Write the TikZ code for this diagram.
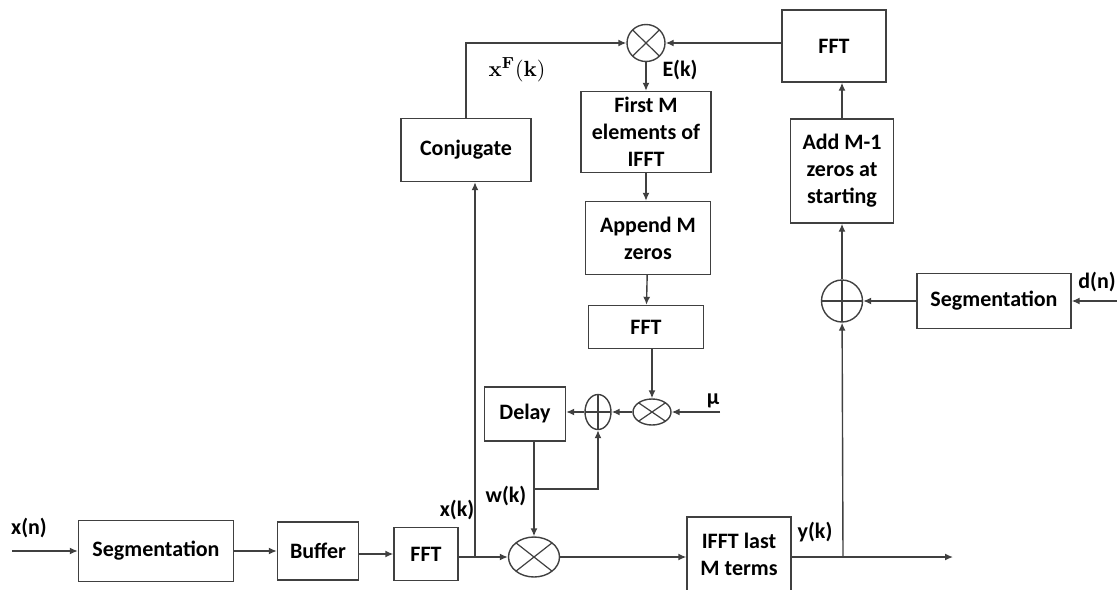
\documentclass[tikz,border=0pt]{standalone}
\usepackage[no-math]{fontspec}
\setmainfont{Carlito}
\usetikzlibrary{shapes.geometric,arrows.meta}

\begin{document}
\begin{tikzpicture}[x=0.5pt, y=-0.5pt,
    every node/.style={font=\bfseries\fontsize{11}{13.5}\selectfont},
    block/.style={draw=black!75, line width=0.7pt, rectangle, inner sep=0pt, align=center},
    mult/.style={draw=black!75, line width=0.7pt, ellipse, inner sep=0pt,
        path picture={\draw[black!75, line width=0.6pt]
            (path picture bounding box.north west) -- (path picture bounding box.south east)
            (path picture bounding box.south west) -- (path picture bounding box.north east);}},
    adder/.style={draw=black!75, line width=0.7pt, ellipse, inner sep=0pt,
        path picture={\draw[black!75, line width=0.6pt]
            (path picture bounding box.west) -- (path picture bounding box.east)
            (path picture bounding box.north) -- (path picture bounding box.south);}},
    sig/.style={draw=black!75, line width=0.7pt, -{Latex[length=4pt,width=3.5pt]}}]

\useasboundingbox (0,0) rectangle (1117,589);

% -----------------------------
% Main path (bottom row)
% -----------------------------
\node[block, minimum width=77.5pt, minimum height=30.5pt] (seg1) at (156,551) {Segmentation};
\node[block, minimum width=40.5pt, minimum height=29pt] (buffer) at (318,551) {Buffer};
\node[block, minimum width=32pt, minimum height=26.5pt] (fft1) at (426,554) {FFT};
\node[mult, minimum width=25.5pt, minimum height=20pt] (m1) at (534,557) {};
\node[block, minimum width=52pt, minimum height=37pt] (ifft) at (739,554) {IFFT last\\M terms};

% -----------------------------
% Error path (top)
% -----------------------------
\node[block, minimum width=65pt, minimum height=31.5pt] (conj) at (466,150) {Conjugate};
\node[mult, minimum width=19pt, minimum height=18.5pt] (m3) at (646,43) {};
\node[block, minimum width=65pt, minimum height=40.5pt] (first) at (646,132) {First M\\elements of\\IFFT};
\node[block, minimum width=62.5pt, minimum height=36.5pt] (append) at (648,238) {Append M\\zeros};
\node[block, minimum width=57.5pt, minimum height=21.5pt] (fft2) at (646,327) {FFT};

% weight update
\node[mult, minimum width=19pt, minimum height=13pt] (m2) at (652,412) {};
\node[adder, minimum width=13pt, minimum height=17.5pt] (a1) at (598,412) {};
\node[block, minimum width=40.5pt, minimum height=27pt] (delay) at (525,414) {Delay};

% desired signal branch
\node[block, minimum width=52pt, minimum height=36pt] (ffttop) at (834,46) {FFT};
\node[block, minimum width=51.5pt, minimum height=52pt] (addm) at (842,171) {Add M-1\\zeros at\\starting};
\node[adder, minimum width=20.5pt, minimum height=21pt] (a2) at (842,301) {};
\node[block, minimum width=77pt, minimum height=27.5pt] (seg2) at (994,301) {Segmentation};

% free ends and taps
\coordinate (xin) at (12,551);
\coordinate (xk) at (475,557);
\coordinate (wk) at (534,489);
\coordinate (yk) at (843,557);
\coordinate (yout) at (953,557);
\coordinate (mu) at (720,412);
\coordinate (din) at (1117,301);

% -----------------------------
% Connectors
% -----------------------------
\draw[sig] (xin) -- (seg1);
\draw[sig] (seg1) -- (buffer);
\draw[sig] (buffer.east |- fft1) -- (fft1);
\draw[sig] (fft1.east |- m1) -- (m1);
\draw[sig] (xk) -- (xk |- conj.south);          % x(k) to conjugate
\draw[sig] (conj.north) |- (m3);
\draw[sig] (ffttop.west |- m3) -- (m3);
\draw[sig] (m3) -- (first);
\draw[sig] (first) -- (first |- append.north);
\draw[sig] (append) -- (fft2);
\draw[sig] (fft2.south -| m2) -- (m2);
\draw[sig] (mu) -- (m2);
\draw[sig] (m2) -- (a1);
\draw[sig] (a1) -- (a1 -| delay.east);
\draw[sig] (delay.south -| m1) -- (m1);         % w(k) into multiplier
\draw[sig] (wk) -| (a1);                         % feedback to adder
\draw[sig] (m1) -- (m1 -| ifft.west);
\draw[sig] (ifft.east |- m1) -- (yout);
\draw[sig] (yk) -- (a2);
\draw[sig] (a2) -- (addm);
\draw[sig] (addm.north) -- (addm.north |- ffttop.south);
\draw[sig] (seg2) -- (a2);
\draw[sig] (din) -- (seg2);

% -----------------------------
% Labels
% -----------------------------
\node (xnlab) at (29,528) {x(n)};
\node (xklab) at (457,510) {x(k)};
\node (wklab) at (506,496) {w(k)};
\node (yklab) at (815,532) {y(k)};
\node (dnlab) at (1097,282) {d(n)};
\node (eklab) at (680,70) {E(k)};
\node (xflab) at (517,70) {$\mathbf{x}^{\mathbf{F}}(\mathbf{k})$};
\node (mulab) at (713,401) {μ};

\end{tikzpicture}
\end{document}
